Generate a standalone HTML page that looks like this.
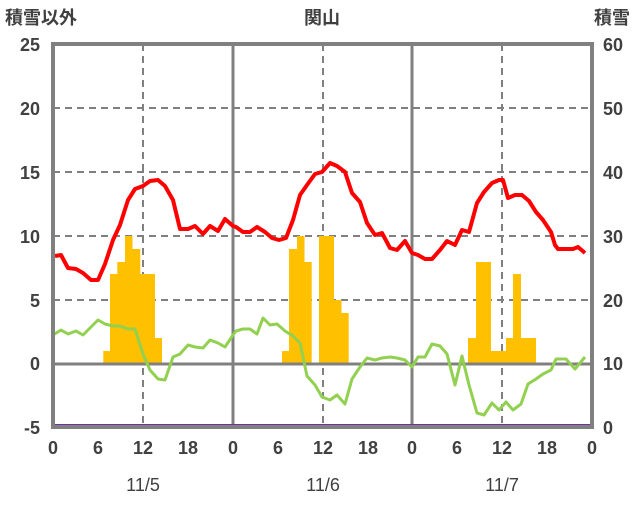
<!DOCTYPE html>
<html><head><meta charset="utf-8"><style>
body{margin:0;background:#fff;}
svg text{font-family:"Liberation Sans","Noto Sans CJK JP",sans-serif;fill:#404040;font-size:18px;}
</style></head><body>
<svg width="636" height="501" viewBox="0 0 636 501" xmlns="http://www.w3.org/2000/svg">
<g stroke="#808080" stroke-width="2" stroke-dasharray="7,5">
<line x1="53" y1="108" x2="592" y2="108"/>
<line x1="53" y1="172" x2="592" y2="172"/>
<line x1="53" y1="236" x2="592" y2="236"/>
<line x1="53" y1="300" x2="592" y2="300"/>
<line x1="143" y1="44" x2="143" y2="427"/>
<line x1="323" y1="44" x2="323" y2="427"/>
<line x1="502" y1="44" x2="502" y2="427"/>
</g>
<g fill="#FFC000">
<rect x="103.3" y="351" width="7" height="13"/>
<rect x="110" y="274" width="7.5" height="90"/>
<rect x="117.3" y="262" width="8" height="102"/>
<rect x="125" y="236" width="7.5" height="128"/>
<rect x="132.3" y="249" width="8" height="115"/>
<rect x="140" y="274" width="15" height="90"/>
<rect x="155" y="338" width="7" height="26"/>
<rect x="282" y="351" width="7.5" height="13"/>
<rect x="289" y="249" width="8" height="115"/>
<rect x="297" y="236" width="7.5" height="128"/>
<rect x="304" y="262" width="7.7" height="102"/>
<rect x="319" y="236" width="15" height="128"/>
<rect x="334" y="300" width="7.5" height="64"/>
<rect x="341" y="313" width="7.7" height="51"/>
<rect x="468" y="338" width="8" height="26"/>
<rect x="476" y="262" width="15" height="102"/>
<rect x="491" y="351" width="15" height="13"/>
<rect x="506" y="338" width="7.5" height="26"/>
<rect x="513" y="274" width="8" height="90"/>
<rect x="521" y="338" width="15" height="26"/>
</g>
<g stroke="#808080" stroke-width="3" fill="none">
<line x1="233" y1="44" x2="233" y2="427"/>
<line x1="412" y1="44" x2="412" y2="427"/>
<line x1="53" y1="364" x2="592" y2="364"/>
</g>
<polyline fill="none" stroke="#92D050" stroke-width="3" stroke-linejoin="round" points="53,335 61,330 68,334 76,331 83,335 91,327 98,320 105,324 113,326 120,326 128,329 135,329 143,354 150,370 158,379 165,380 173,357 180,354 188,345 195,347 203,348 210,340 218,343 225,347 233,335 236,331 243,329 250,329 257,334 263,318 270,325 277,324 285,331 293,336 300,343 307,376 315,385 322,397 330,400 337,395 345,404 352,379 360,367 367,358 375,360 382,358 390,357 397,358 405,360 412,367 418,357 425,357 432,344 440,346 447,354 455,385 462,356 469,385 477,413 484,415 492,403 499,410 506,402 513,410 521,404 528,384 536,379 543,374 551,370 556,359 566,359 575,369 585,357"/>
<polyline fill="none" stroke="#FF0000" stroke-width="4" stroke-linejoin="round" points="55,256 61,255 68,268 76,269 83,273 91,280 98,280 105,264 113,240 120,225 128,200 135,189 143,186 150,181 158,180 165,186 173,200 180,229 188,229 195,226 203,234 210,226 218,231 225,219 233,226 236,227 243,232 250,232 257,227 265,232 272,238 279,240 286,238 293,220 300,195 307,185 315,174 322,172 330,163 337,166 345,172 352,193 360,202 367,223 375,235 382,233 390,248 397,250 405,241 412,253 418,255 425,259 432,259 440,250 447,241 455,245 462,230 469,232 477,203 484,192 492,183 499,180 503,180 508,198 515,195 522,195 529,201 536,212 543,220 551,232 555,245 558,249 566,249 573,249 578,247 585,253"/>
<line x1="53" y1="426" x2="592" y2="426" stroke="#7030A0" stroke-width="4"/>
<rect x="53" y="44" width="539" height="383" fill="none" stroke="#808080" stroke-width="4"/>
<g font-weight="bold">
<text x="5" y="24">積雪以外</text>
<text x="322" y="24" text-anchor="middle">関山</text>
<text x="630" y="24" text-anchor="end">積雪</text>
<g text-anchor="end">
<text x="40" y="51">25</text><text x="40" y="115">20</text><text x="40" y="179">15</text>
<text x="40" y="243">10</text><text x="40" y="307">5</text><text x="40" y="370">0</text><text x="40" y="434">-5</text>
</g>
<g text-anchor="start">
<text x="603" y="51">60</text><text x="603" y="115">50</text><text x="603" y="179">40</text>
<text x="603" y="243">30</text><text x="603" y="307">20</text><text x="603" y="370">10</text><text x="603" y="434">0</text>
</g>
<g text-anchor="middle">
<text x="53" y="454">0</text><text x="98" y="454">6</text><text x="143" y="454">12</text><text x="188" y="454">18</text>
<text x="233" y="454">0</text><text x="278" y="454">6</text><text x="323" y="454">12</text><text x="368" y="454">18</text>
<text x="412" y="454">0</text><text x="457" y="454">6</text><text x="502" y="454">12</text><text x="547" y="454">18</text>
<text x="592" y="454">0</text>
</g>
</g>
<g text-anchor="middle">
<text x="143" y="491">11/5</text><text x="323" y="491">11/6</text><text x="502" y="491">11/7</text>
</g>
</svg>
</body></html>
